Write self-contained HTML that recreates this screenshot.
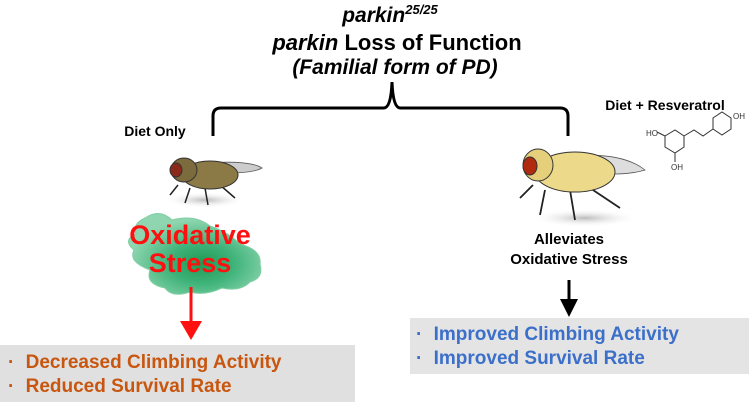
<!DOCTYPE html>
<html><head><meta charset="utf-8"><style>
html,body{margin:0;padding:0;background:#fff;}
svg{display:block;}
text{font-family:"Liberation Sans",Arial,sans-serif;font-weight:bold;}
</style></head><body>
<svg width="749" height="402" viewBox="0 0 749 402" xmlns="http://www.w3.org/2000/svg">
<defs>
<radialGradient id="g" cx="0.55" cy="0.62" r="0.55">
<stop offset="0" stop-color="#1f9a52"/><stop offset="0.45" stop-color="#3fb37a"/><stop offset="1" stop-color="#8fd6b0"/>
</radialGradient>
<radialGradient id="sh" cx="0.5" cy="0.5" r="0.5"><stop offset="0" stop-color="#bbb"/><stop offset="1" stop-color="#fff" stop-opacity="0"/></radialGradient>
</defs>
<text x="390" y="22" font-size="21" font-style="italic" text-anchor="middle">parkin<tspan font-size="13" dy="-8">25/25</tspan></text>
<text x="397" y="50" font-size="22" text-anchor="middle"><tspan font-style="italic">parkin</tspan> Loss of Function</text>
<text x="395" y="74" font-size="21" font-style="italic" text-anchor="middle">(Familial form of PD)</text>
<path d="M213,136 L213,116 Q213,108 221,108 L384,108 Q391,108 392,82 Q393,108 400,108 L560,108 Q568,108 568,116 L568,136" fill="none" stroke="#000" stroke-width="3"/>
<text x="155" y="136" font-size="14" text-anchor="middle">Diet Only</text>
<text x="665" y="110" font-size="14" text-anchor="middle">Diet + Resveratrol</text>
<g stroke="#333" stroke-width="1" fill="none">
<polygon points="665,136 675,130 684,136 684,147 675,153 665,147"/>
<polygon points="713,118 722,112 731,118 731,129 722,135 713,129"/>
<path d="M684,136 L694,130 L703,136 L713,129"/>
<path d="M665,136 L657,132 M675,153 L675,162"/>
</g>
<g font-size="8" fill="#333"><text x="646" y="136" style="font-weight:normal">HO</text><text x="671" y="170" style="font-weight:normal">OH</text><text x="733" y="119" style="font-weight:normal">OH</text></g>
<!-- left fly -->
<ellipse cx="205" cy="200" rx="42" ry="8" fill="url(#sh)"/>
<g stroke="#222" stroke-width="1.5" fill="none">
<path d="M178,185 L170,195 M190,188 L185,203 M205,188 L208,205 M220,185 L235,198"/>
</g>
<path d="M205,163 Q250,160 262,168 Q250,175 205,172 Z" fill="#ccc" stroke="#555" stroke-width="0.8"/>
<ellipse cx="210" cy="175" rx="28" ry="14" fill="#8b7a45" stroke="#333" stroke-width="1"/>
<ellipse cx="184" cy="170" rx="13" ry="12" fill="#7c6b3c" stroke="#333" stroke-width="1"/>
<ellipse cx="176" cy="170" rx="6" ry="7" fill="#8a2a1a" stroke="#333" stroke-width="1"/>
<!-- green blob -->
<path d="M145,218 Q160,208 172,220 Q195,214 210,226 Q228,232 240,244 Q262,250 260,264 Q264,278 250,282 Q240,292 222,288 Q205,296 190,292 Q172,298 165,288 Q145,284 150,270 Q128,262 134,250 Q122,240 136,234 Q132,224 145,218 Z" fill="url(#g)" stroke="#7fcfa3" stroke-width="1"/>
<text x="190" y="244" font-size="27" fill="#ff1010" text-anchor="middle">Oxidative</text>
<text x="190" y="272" font-size="27" fill="#ff1010" text-anchor="middle">Stress</text>
<line x1="191" y1="287" x2="191" y2="326" stroke="#ff1010" stroke-width="3"/>
<polygon points="180,321 202,321 191,340" fill="#ff1010"/>
<!-- right fly -->
<ellipse cx="585" cy="218" rx="55" ry="9" fill="url(#sh)"/>
<g stroke="#222" stroke-width="1.8" fill="none">
<path d="M533,185 L520,198 M545,190 L540,215 M570,190 L575,220 M590,188 L620,208"/>
</g>
<path d="M560,157 Q620,150 645,170 Q620,178 565,170 Z" fill="#ddd" stroke="#555" stroke-width="0.8"/>
<ellipse cx="575" cy="172" rx="40" ry="20" fill="#ecd98a" stroke="#333" stroke-width="1"/>
<ellipse cx="538" cy="165" rx="15" ry="16" fill="#e5cf7a" stroke="#333" stroke-width="1"/>
<ellipse cx="530" cy="166" rx="7" ry="9" fill="#b02a10" stroke="#333" stroke-width="1"/>
<text x="569" y="244" font-size="15" text-anchor="middle">Alleviates</text>
<text x="569" y="264" font-size="15" text-anchor="middle">Oxidative Stress</text>
<line x1="569" y1="280" x2="569" y2="305" stroke="#000" stroke-width="3"/>
<polygon points="560,299 578,299 569,317" fill="#000"/>
<rect x="0" y="345" width="355" height="57" fill="#e0e0e0"/>
<text x="8" y="368" font-size="19" fill="#c8560f">· <tspan dx="6">Decreased Climbing Activity</tspan></text>
<text x="8" y="392" font-size="19" fill="#c8560f">· <tspan dx="6">Reduced Survival Rate</tspan></text>
<rect x="410" y="318" width="339" height="56" fill="#e4e4e4"/>
<text x="416" y="340" font-size="19" fill="#3b6fc9">· <tspan dx="6">Improved Climbing Activity</tspan></text>
<text x="416" y="364" font-size="19" fill="#3b6fc9">· <tspan dx="6">Improved Survival Rate</tspan></text>
</svg>
</body></html>
